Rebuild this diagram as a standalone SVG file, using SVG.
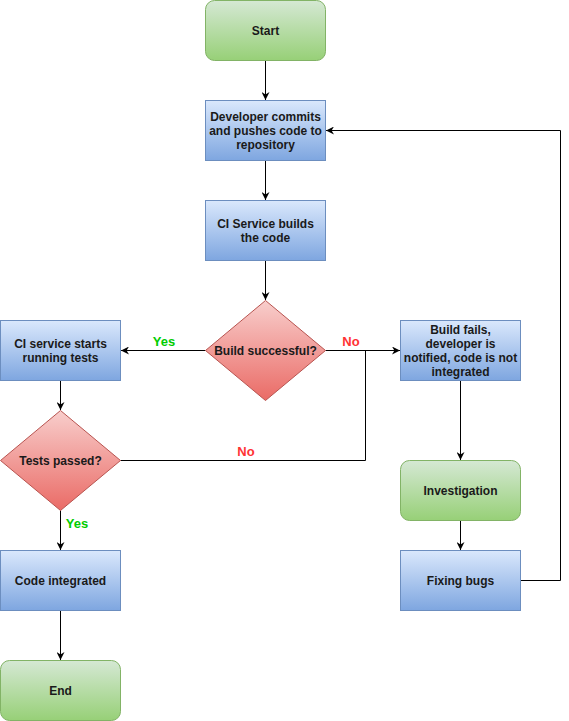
<svg xmlns="http://www.w3.org/2000/svg" width="569" height="721" viewBox="0 0 569 721">
<style>
.blue{fill:url(#gb);stroke:#6c8ebf;stroke-width:1}
.green{fill:url(#gg);stroke:#82b366;stroke-width:1}
.red{fill:url(#gr);stroke:#b85450;stroke-width:1}
.t{font-family:"Liberation Sans",Arial,sans-serif;font-size:12px;font-weight:bold;fill:#1a1a1a;text-anchor:middle}
.lbl{font-family:"Liberation Sans",Arial,sans-serif;font-size:13px;font-weight:bold;text-anchor:middle}
.yes{fill:#00cc00}
.no{fill:#ff3333}
.c{fill:none;stroke:#000;stroke-width:1;marker-end:url(#arr)}
.cl{fill:none;stroke:#000;stroke-width:1}
</style>
<defs>
<linearGradient id="gb" x1="0" y1="0" x2="0" y2="1"><stop offset="0" stop-color="#dae8fc"/><stop offset="1" stop-color="#7ea6e0"/></linearGradient>
<linearGradient id="gg" x1="0" y1="0" x2="0" y2="1"><stop offset="0" stop-color="#d5e8d4"/><stop offset="1" stop-color="#97d077"/></linearGradient>
<linearGradient id="gr" x1="0" y1="0" x2="0" y2="1"><stop offset="0" stop-color="#f8cecc"/><stop offset="1" stop-color="#ea6b66"/></linearGradient>
<marker id="arr" viewBox="0 0 10 10" refX="10" refY="5" markerWidth="8" markerHeight="8" markerUnits="userSpaceOnUse" orient="auto">
<path d="M0,0 L10,5 L0,10 L3,5 Z" fill="#000"/>
</marker>
</defs>
<g id="connectors">
<path class="c" d="M265.5,60.5 V100"/>
<path class="c" d="M265.5,160.5 V200"/>
<path class="c" d="M265.5,260.5 V300"/>
<path class="c" d="M205.5,350.5 H121"/>
<path class="c" d="M325.5,350.5 H400"/>
<path class="c" d="M60.5,380.5 V410"/>
<path class="cl" d="M120.5,460.5 H365.5 V350.5"/>
<path class="c" d="M60.5,510.5 V550"/>
<path class="c" d="M60.5,610.5 V660"/>
<path class="c" d="M460.5,380.5 V460"/>
<path class="c" d="M460.5,520.5 V550"/>
<path class="c" d="M520.5,580.5 H560.5 V130.5 H326"/>
<text class="lbl yes" x="164" y="346">Yes</text>
<text class="lbl no" x="351" y="346">No</text>
<text class="lbl no" x="246" y="456">No</text>
<text class="lbl yes" x="77" y="528">Yes</text>
</g>
<g id="start"><rect class="green" x="205.5" y="0.5" width="120" height="60" rx="9"/><text class="t" x="265.5" y="35">Start</text></g>
<g id="commit"><rect class="blue" x="205.5" y="100.5" width="120" height="60"/><text class="t" x="265.5" y="121">Developer commits</text><text class="t" x="265.5" y="135">and pushes code to</text><text class="t" x="265.5" y="149">repository</text></g>
<g id="build"><rect class="blue" x="205.5" y="200.5" width="120" height="60"/><text class="t" x="265.5" y="228">CI Service builds</text><text class="t" x="265.5" y="242">the code</text></g>
<g id="buildok"><path class="red" d="M265.5,300.5 L325.5,350.5 L265.5,400.5 L205.5,350.5 Z"/><text class="t" x="265.5" y="355">Build successful?</text></g>
<g id="tests"><rect class="blue" x="0.5" y="320.5" width="120" height="60"/><text class="t" x="60.5" y="348">CI service starts</text><text class="t" x="60.5" y="362">running tests</text></g>
<g id="testsok"><path class="red" d="M60.5,410.5 L120.5,460.5 L60.5,510.5 L0.5,460.5 Z"/><text class="t" x="60.5" y="465">Tests passed?</text></g>
<g id="integrated"><rect class="blue" x="0.5" y="550.5" width="120" height="60"/><text class="t" x="60.5" y="585">Code integrated</text></g>
<g id="end"><rect class="green" x="0.5" y="660.5" width="120" height="60" rx="9"/><text class="t" x="60.5" y="695">End</text></g>
<g id="fails"><rect class="blue" x="400.5" y="320.5" width="120" height="60"/><text class="t" x="460.5" y="334">Build fails,</text><text class="t" x="460.5" y="348">developer is</text><text class="t" x="460.5" y="362">notified, code is not</text><text class="t" x="460.5" y="376">integrated</text></g>
<g id="investigation"><rect class="green" x="400.5" y="460.5" width="120" height="60" rx="9"/><text class="t" x="460.5" y="495">Investigation</text></g>
<g id="fixing"><rect class="blue" x="400.5" y="550.5" width="120" height="60"/><text class="t" x="460.5" y="585">Fixing bugs</text></g>
</svg>
